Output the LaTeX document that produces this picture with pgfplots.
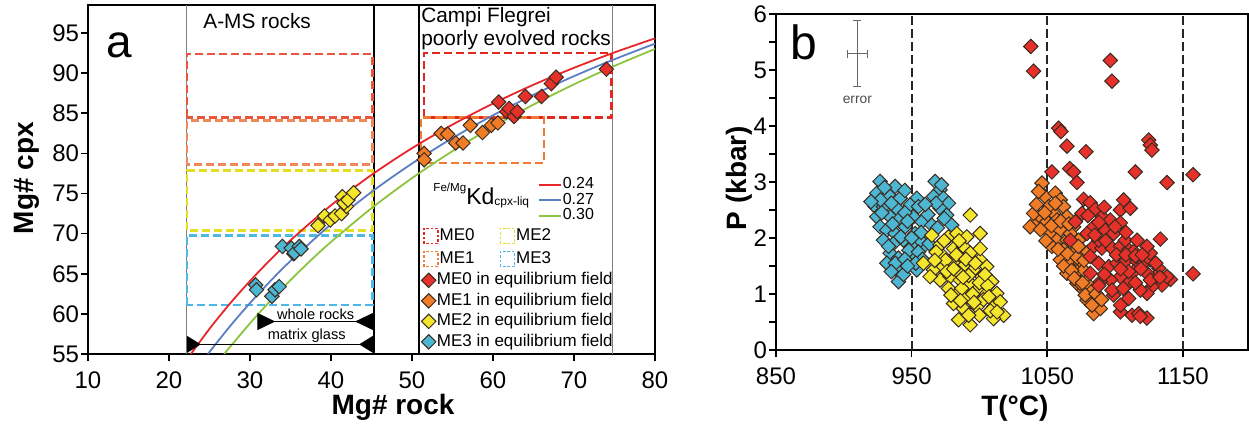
\documentclass[border=0pt]{standalone}
\usepackage{fontspec}
\setmainfont{Liberation Sans}
\usepackage{pgfplots}
\pgfplotsset{compat=1.18}
\usetikzlibrary{arrows.meta}

\definecolor{cME0}{HTML}{E6302A}
\definecolor{cME1}{HTML}{F07C26}
\definecolor{cME2}{HTML}{F4E62C}
\definecolor{cME3}{HTML}{4DB6D2}
\definecolor{rME0}{HTML}{E8573C}
\definecolor{rME1}{HTML}{F0895A}
\definecolor{rME2}{HTML}{E4DE22}
\definecolor{rME3}{HTML}{4DB8E6}
\definecolor{cfME0}{HTML}{E5281F}
\definecolor{cfME1}{HTML}{F07A30}
\definecolor{kd24}{HTML}{E8262A}
\definecolor{kd27}{HTML}{5B7EC4}
\definecolor{kd30}{HTML}{8CC43F}
\definecolor{edge}{HTML}{3A2B20}

\tikzset{
  dmd/.style={only marks, mark=square*, mark size=2.55pt,
    mark options={rotate=45, draw=edge, line width=0.5pt, fill=#1}},
  rect/.style={#1, line width=1.3pt, dash pattern=on 4pt off 2pt},
}
\pgfplotsset{
  panelA/.style={at={(44pt,41.5pt)}, anchor=south west, scale only axis,
    width=283.5pt, height=174.5pt, xmin=10, xmax=80, ymin=55, ymax=98.5},
  leg/.style={legend cell align=left,
    legend style={draw=none, fill=none, inner sep=0pt, outer sep=0pt,
      /tikz/column sep=0pt, /tikz/row sep=#1,
      font=\fontsize{8.5}{9}\selectfont,
      nodes={inner sep=0.5pt, text height=6.2pt, text depth=1.8pt}}},
  frame/.style={axis line style={line width=1pt}, tick pos=left, tick align=outside,
    major tick length=3.3pt, minor tick length=3.3pt,
    tick style={line width=0.8pt, black},
    ticklabel style={font=\fontsize{12}{14}\selectfont, inner sep=1pt},
    xticklabel style={yshift=-4.5pt},
    /pgf/number format/assume math mode=true, /pgf/number format/1000 sep={},
    label style={font=\bfseries\fontsize{14}{16}\selectfont}},
}

\begin{document}
\begin{tikzpicture}
\path[use as bounding box] (0,0) rectangle (624.5pt,218.5pt);

% ---------------- panel a ----------------
\begin{axis}[panelA, frame,
  xtick={10,20,...,80}, ytick={55,60,...,95},
  xlabel={Mg\# rock}, ylabel={Mg\# cpx},
  xlabel style={at={(axis description cs:0.538,-0.172)}, anchor=base},
  ylabel style={at={(axis description cs:-0.097,0.504)}, anchor=base},
  leg=1.25pt,
  legend style={at={(axis cs:51.17,65.3)}, anchor=north west},
  legend image code/.code={\draw[#1] plot coordinates {(3.75pt,0pt)};},
]
% field limits
\draw[black!50, line width=0.6pt] (axis cs:22.2,55) -- (axis cs:22.2,98.5);
\draw[black, line width=0.8pt] (axis cs:45.3,55) -- (axis cs:45.3,98.5);
\draw[black, line width=0.8pt] (axis cs:50.9,55) -- (axis cs:50.9,98.5);
\draw[black!50, line width=0.6pt] (axis cs:74.8,55) -- (axis cs:74.8,98.5);

% equilibrium fields
\draw[rect=rME0] (axis cs:22.2,84.5) rectangle (axis cs:45.1,92.4);
\draw[rect=rME1] (axis cs:22.2,78.6) rectangle (axis cs:45.1,84.1);
\draw[rect=rME2] (axis cs:22.2,70.4) rectangle (axis cs:45.1,77.9);
\draw[rect=rME3] (axis cs:22.2,61.1) rectangle (axis cs:45.1,69.8);
\draw[rect=cfME0] (axis cs:51.5,84.5) rectangle (axis cs:74.6,92.5);
\draw[rect=cfME1] (axis cs:51.1,78.8) rectangle (axis cs:66.3,84.5);

% Kd curves
\addplot[smooth, kd24, line width=0.9pt, forget plot] coordinates {
(22.7,55.0) (25,58.14) (27.5,61.25) (30,64.10) (32.5,66.73) (35,69.17) (40,73.53)
(45,77.32) (50,80.65) (55,83.59) (60,86.21) (65,88.56) (70,90.67) (75,92.59) (80,94.34)};
\addplot[smooth, kd27, line width=0.9pt, forget plot] coordinates {
(24.8,55.0) (27.5,58.42) (30,61.35) (32.5,64.07) (35,66.60) (40,71.17) (45,75.19)
(50,78.74) (55,81.91) (60,84.75) (65,87.31) (70,89.63) (75,91.74) (80,93.68)};
\addplot[smooth, kd30, line width=0.9pt, forget plot] coordinates {
(26.8,55.0) (30,58.82) (32.5,61.61) (35,64.22) (37.5,66.67) (40,68.97) (45,73.17)
(50,76.92) (55,80.29) (60,83.33) (65,86.09) (70,88.61) (75,90.91) (80,93.02)};

% data
\addplot[dmd=cME3, forget plot] table {
x y
30.7 63.6
30.8 63.0
32.7 62.2
33.1 63.0
33.6 63.4
34.0 68.4
35.1 68.2
35.4 67.5
35.5 67.6
36.1 68.4
36.3 68.1
};
\addplot[dmd=cME2, forget plot] table {
x y
38.4 71.0
39.2 72.2
39.9 71.7
40.5 72.2
41.3 72.5
41.9 73.4
41.4 74.6
41.6 73.8
42.1 74.2
42.8 75.1
};
\addplot[dmd=cME1, forget plot] table {
x y
51.5 80.0
51.5 79.2
53.6 82.5
54.4 82.4
55.4 81.3
56.3 81.3
57.2 83.5
58.7 82.6
59.8 83.5
60.6 83.8
};
\addplot[dmd=cME0, forget plot] table {
x y
60.7 86.4
61.7 85.2
62.0 85.6
62.6 84.6
63.0 85.2
64.0 87.1
66.0 87.1
67.2 88.7
67.8 89.5
74.0 90.5
};

\addlegendimage{dmd=cME0}\addlegendentry{ME0 in equilibrium field}
\addlegendimage{dmd=cME1}\addlegendentry{ME1 in equilibrium field}
\addlegendimage{dmd=cME2}\addlegendentry{ME2 in equilibrium field}
\addlegendimage{dmd=cME3}\addlegendentry{ME3 in equilibrium field}

% ranges
\draw[line width=0.6pt, {Triangle[reversed,length=9pt,width=8.5pt]}-{Triangle[reversed,length=9pt,width=8.5pt]}]
  (axis cs:30.9,59.05) -- (axis cs:45.2,59.05);
\draw[line width=0.6pt, {Triangle[reversed,length=7pt,width=8.5pt]}-{Triangle[reversed,length=7pt,width=8.5pt]}]
  (axis cs:22.2,56.2) -- (axis cs:45.2,56.2);
\node[anchor=base, inner sep=0pt, font=\fontsize{7.3}{8}\selectfont] at (axis cs:38.1,59.3) {whole rocks};
\node[anchor=base, inner sep=0pt, font=\fontsize{7.3}{8}\selectfont] at (axis cs:37.0,56.8) {matrix glass};

% labels
\node[anchor=base west, inner sep=0pt, font=\fontsize{23}{26}\selectfont] at (axis cs:12.2,91.9) {a};
\node[anchor=base west, inner sep=0pt, font=\fontsize{10.4}{12}\selectfont] at (axis cs:24.2,95.6) {A-MS rocks};
\node[anchor=base west, inner sep=0pt, font=\fontsize{10.4}{12}\selectfont] at (axis cs:51.1,96.37) {Campi Flegrei};
\node[anchor=base west, inner sep=0pt, font=\fontsize{10.4}{12}\selectfont] at (axis cs:51.1,93.5) {poorly evolved rocks};
\node[anchor=base west, inner sep=0pt] at (axis cs:52.6,73.6)
  {\raisebox{6.85pt}{\fontsize{5.8}{6}\selectfont Fe/Mg}\fontsize{11.5}{13}\selectfont Kd\raisebox{-0.5pt}{\fontsize{6}{7}\selectfont cpx-liq}};
\end{axis}

% legend: Kd lines
\begin{axis}[panelA, hide axis, leg=0.05pt,
  legend style={at={(axis cs:65.56,77.04)}, anchor=north west,
    font=\fontsize{8}{9}\selectfont,
    nodes={inner sep=0.5pt, text height=5.3pt, text depth=1.4pt}},
  legend image code/.code={\draw[#1] (0pt,0pt) -- (11pt,0pt);},
]
\addlegendimage{kd24, line width=0.9pt}\addlegendentry{0.24}
\addlegendimage{kd27, line width=0.9pt}\addlegendentry{0.27}
\addlegendimage{kd30, line width=0.9pt}\addlegendentry{0.30}
\end{axis}

% legend: fields
\begin{axis}[panelA, hide axis, leg=2.5pt, legend columns=2,
  legend style={at={(axis cs:51.36,70.81)}, anchor=north west,
    /tikz/every even column/.append style={column sep=12pt}},
  legend image code/.code={\draw[#1, line width=0.8pt, dash pattern=on 1.3pt off 0.9pt] (0pt,-3.75pt) rectangle (7pt,3.75pt);},
]
\addlegendimage{cfME0}\addlegendentry{ME0}
\addlegendimage{rME2}\addlegendentry{ME2}
\addlegendimage{cfME1}\addlegendentry{ME1}
\addlegendimage{rME3}\addlegendentry{ME3}
\end{axis}

% ---------------- panel b ----------------
\begin{axis}[at={(388pt,43.5pt)}, anchor=south west, scale only axis,
  width=236pt, height=168pt, frame,
  xmin=850, xmax=1198, ymin=0, ymax=6,
  xtick={850,950,1050,1150}, ytick={0,1,...,6}, minor ytick={0.5,1.5,...,5.5},
  xlabel={T(°C)}, ylabel={P (kbar)},
  xlabel style={at={(axis description cs:0.506,-0.196)}, anchor=base},
  ylabel style={at={(axis description cs:-0.062,0.512)}, anchor=base},
]
\draw[black!85, line width=0.9pt, dash pattern=on 4.5pt off 2pt] (axis cs:950,0) -- (axis cs:950,6);
\draw[black!85, line width=0.9pt, dash pattern=on 4.5pt off 2pt] (axis cs:1050,0) -- (axis cs:1050,6);
\draw[black!85, line width=0.9pt, dash pattern=on 4.5pt off 2pt] (axis cs:1150,0) -- (axis cs:1150,6);

% error key
\draw[black!60, line width=0.5pt]
  (axis cs:910,4.70) -- (axis cs:910,5.88)
  (axis cs:907,4.70) -- (axis cs:913,4.70)
  (axis cs:907,5.88) -- (axis cs:913,5.88)
  (axis cs:902.4,5.29) -- (axis cs:917.6,5.29)
  (axis cs:902.4,5.22) -- (axis cs:902.4,5.36)
  (axis cs:917.6,5.22) -- (axis cs:917.6,5.36);
\node[anchor=base, inner sep=0pt, text=black!70, font=\fontsize{6.9}{8}\selectfont] at (axis cs:910,4.41) {error};
\node[anchor=base west, inner sep=0pt, font=\fontsize{24}{26}\selectfont] at (axis cs:860.3,5.18) {b};

\addplot[dmd=cME3] table {
x y
926.7 3.01
937.8 2.92
924.3 2.80
932.9 2.77
941.5 2.71
953.8 2.71
923.1 2.56
929.2 2.56
939.0 2.53
948.9 2.59
955.0 2.56
924.3 2.38
934.1 2.38
941.5 2.35
951.3 2.38
957.5 2.29
926.7 2.20
931.7 2.14
937.8 2.08
945.2 2.20
952.6 2.08
929.2 1.96
936.6 1.90
944.0 1.96
934.1 1.73
940.3 1.64
931.7 1.55
939.0 1.43
940.3 1.22
951.3 1.67
953.8 1.43
951.3 1.85
958.7 1.85
967.3 3.01
971.0 2.86
966.1 2.74
973.5 2.71
977.2 2.62
971.0 2.53
975.9 2.41
979.6 2.23
964.9 2.23
960.0 2.02
956.3 1.96
927.0 2.68
935.0 2.62
945.0 2.45
928.0 2.45
936.0 2.25
942.0 2.02
948.0 1.78
933.0 1.85
938.0 1.55
945.0 1.62
944.0 1.35
935.0 1.40
947.0 2.30
950.0 2.00
957.0 2.10
962.0 2.42
968.0 2.62
974.0 2.35
969.0 2.18
963.0 1.90
955.0 1.75
958.0 1.62
953.0 1.55
947.0 1.50
920.0 2.65
930.0 2.90
945.0 2.85
960.0 2.60
972.0 2.95
};
\addplot[dmd=cME2] table {
x y
993.2 2.41
1000.5 2.08
964.9 2.05
958.7 1.55
971.0 1.88
977.2 2.02
983.3 2.08
973.5 1.67
980.9 1.81
988.2 1.85
993.2 1.73
1000.5 1.61
1005.4 1.49
966.1 1.43
973.5 1.49
980.9 1.55
988.2 1.49
995.6 1.43
1001.8 1.31
1009.1 1.22
971.0 1.25
978.4 1.31
985.8 1.25
993.2 1.19
983.3 1.01
990.7 0.95
998.1 1.07
1005.4 1.01
1012.8 1.01
980.9 0.83
988.2 0.74
998.1 0.77
1010.4 0.77
1015.3 0.86
1017.8 0.62
1010.4 0.56
984.6 0.54
993.2 0.45
977.2 1.10
963.6 1.31
1000.5 1.81
990.7 2.02
968.0 1.75
975.0 1.60
983.0 1.70
990.0 1.62
997.0 1.55
976.0 1.40
984.0 1.40
992.0 1.33
1000.0 1.20
1006.0 1.15
987.0 1.10
995.0 1.00
1003.0 0.90
1008.0 0.70
1000.0 0.62
992.0 0.62
986.0 0.88
979.0 0.98
1013.0 0.68
1007.0 0.95
996.0 0.85
981.0 1.45
988.0 1.30
967.0 1.60
974.0 1.95
985.0 1.95
1004.0 1.35
};
\addplot[dmd=cME1] table {
x y
1046.1 2.98
1048.5 2.74
1055.9 2.80
1059.6 2.68
1041.1 2.29
1037.4 2.20
1044.8 2.38
1049.7 2.29
1054.7 2.44
1062.0 2.56
1064.5 2.38
1052.2 2.08
1059.6 2.14
1069.4 2.20
1057.1 1.96
1064.5 1.96
1073.1 1.96
1053.4 1.85
1062.0 1.79
1069.4 1.73
1075.6 1.79
1059.6 1.61
1067.0 1.55
1074.3 1.55
1064.5 1.37
1071.9 1.40
1079.3 1.31
1071.9 1.19
1076.8 1.07
1081.7 0.95
1086.6 0.83
1084.2 0.65
1089.1 0.74
1079.3 0.89
1039.9 2.44
1043.6 2.83
1051.0 2.56
1057.1 2.32
1067.0 2.08
1074.3 1.19
1081.7 1.13
1076.8 1.43
1042.0 2.60
1048.0 2.45
1056.0 2.62
1045.0 2.15
1053.0 2.22
1060.0 2.30
1066.0 2.25
1049.0 1.95
1058.0 1.80
1065.0 1.72
1072.0 1.65
1062.0 1.50
1068.0 1.42
1077.0 1.60
1070.0 1.28
1076.0 1.20
1083.0 1.05
1078.0 0.98
1086.0 1.00
1090.0 0.90
1083.0 0.80
1073.0 1.85
1080.0 1.75
};
\addplot[dmd=cME0] table {
x y
1037.9 5.42
1039.9 4.98
1096.5 5.17
1097.7 4.80
1058.4 3.96
1060.1 3.90
1064.5 3.64
1078.5 3.54
1053.4 3.18
1066.5 3.24
1069.4 3.18
1071.9 2.99
1114.9 3.18
1124.8 3.75
1126.0 3.66
1127.2 3.57
1138.3 2.99
1157.5 3.13
1157.5 1.36
1133.4 1.98
1103.9 2.50
1076.8 2.69
1081.7 2.63
1085.4 2.51
1090.3 2.38
1096.5 2.32
1103.9 2.27
1092.8 2.14
1098.9 2.08
1067.0 1.96
1084.2 1.85
1090.3 1.82
1097.7 1.82
1103.9 1.85
1110.0 1.79
1113.7 1.76
1081.7 1.67
1087.9 1.55
1095.3 1.49
1101.4 1.55
1107.5 1.58
1116.2 1.58
1121.1 1.55
1126.0 1.61
1132.2 1.46
1140.8 1.26
1134.6 1.16
1127.2 1.13
1123.5 1.01
1118.6 1.07
1111.2 1.22
1103.9 1.31
1096.5 1.25
1098.9 0.98
1110.0 0.92
1103.9 0.68
1112.5 0.62
1117.4 0.65
1123.5 0.57
1118.6 0.60
1075.6 2.44
1070.7 2.29
1084.2 2.20
1079.3 2.08
1087.9 1.96
1107.5 1.96
1116.2 1.96
1126.0 1.73
1138.3 1.31
1129.7 1.31
1123.5 1.37
1113.7 1.40
1123.5 1.85
1089.1 1.22
1097.7 1.07
1081.7 1.37
1106.3 2.68
1111.2 2.53
1080.0 2.40
1088.0 2.28
1092.0 2.55
1100.0 2.20
1108.0 2.10
1085.0 2.05
1093.0 1.95
1101.0 1.70
1108.0 1.70
1115.0 1.68
1120.0 1.70
1130.0 1.55
1119.0 1.45
1110.0 1.40
1104.0 1.45
1092.0 1.35
1088.0 1.15
1106.0 1.10
1115.0 1.20
1126.0 1.25
1133.0 1.30
1104.0 0.80
};
\end{axis}
\end{tikzpicture}
\end{document}
